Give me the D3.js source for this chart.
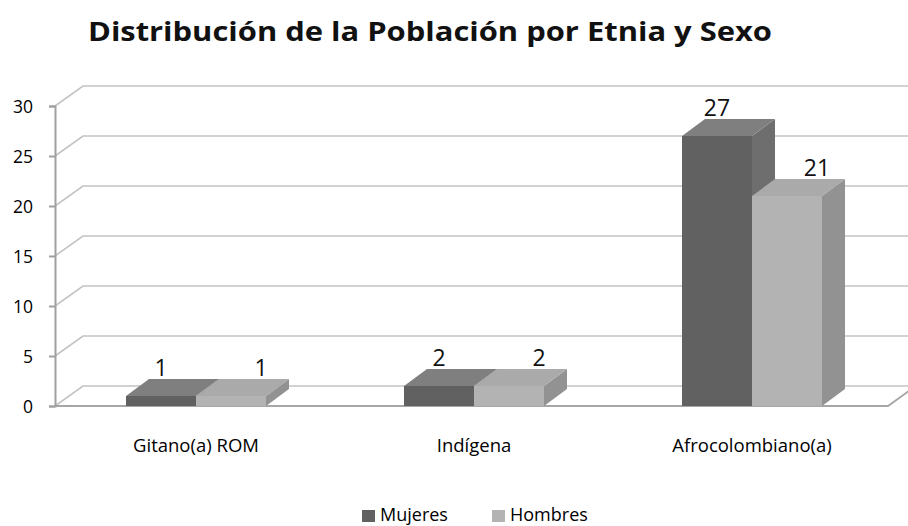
<!DOCTYPE html>
<html><head><meta charset="utf-8">
<script src="https://cdn.jsdelivr.net/npm/d3@7"></script>
<style>html,body{margin:0;padding:0;background:#fff;}svg{display:block;}</style>
</head><body>
<script>
const categories = ["Gitano(a) ROM", "Indígena", "Afrocolombiano(a)"];
const seriesNames = ["Mujeres", "Hombres"];
const mujeres = [1, 2, 27];
const hombres = [1, 2, 21];
const yTicks = [0, 5, 10, 15, 20, 25, 30];
const title = "Distribución de la Población por Etnia y Sexo";

const W = 908, H = 526;
const FONT = "'Open Sans', 'Liberation Sans', sans-serif";
const colors = {
  Mujeres: {front: "#616161", top: "#7f7f7f", side: "#6e6e6e"},
  Hombres: {front: "#b3b3b3", top: "#aaaaaa", side: "#929292"}
};
const wallDx = 28, wallDy = -20;
const barDx = 23, barDy = -17;

const svg = d3.select("body").append("svg").attr("width", W).attr("height", H);

const y = d3.scaleLinear().domain([0, 30]).range([406, 106]);
const x0 = d3.scaleBand().domain(categories).range([57, 891]);
const x1 = d3.scaleBand().domain(seriesNames).range([0, 140]);

// gridlines (back wall)
const grid = svg.append("g");
yTicks.forEach(t => {
  grid.append("path")
    .attr("d", `M55,${y(t)} L${55 + wallDx},${y(t) + wallDy} L${W + 10},${y(t) + wallDy}`)
    .attr("fill", "none").attr("stroke", "#c4c4c4").attr("stroke-width", 1.6);
});
// floor front edge & right diagonal
svg.append("path")
  .attr("d", `M55,${y(0)} L888,${y(0)} L${888 + wallDx},${y(0) + wallDy}`)
  .attr("fill", "none").attr("stroke", "#a6a6a6").attr("stroke-width", 1.8);

// y axis
const yAxis = d3.axisLeft(y).tickValues(yTicks).tickSize(6).tickPadding(16);
const ga = svg.append("g").attr("transform", "translate(55,0)").call(yAxis);
ga.select(".domain").attr("stroke", "#a0a0a0").attr("stroke-width", 2);
ga.selectAll(".tick line").attr("stroke", "#a0a0a0").attr("stroke-width", 2);
ga.selectAll(".tick text").attr("font-family", FONT).attr("font-size", 17.5).attr("fill", "#000").attr("dy", "0.35em");

// bars
const data = categories.map((c, i) => ({cat: c, vals: [
  {s: "Mujeres", v: mujeres[i]}, {s: "Hombres", v: hombres[i]}]}));
const barsG = svg.append("g");
data.forEach(d => {
  const gx = x0(d.cat) + (x0.bandwidth() - 140) / 2;
  d.vals.forEach(b => {
    const xl = gx + x1(b.s), xr = xl + x1.bandwidth();
    const yt = y(b.v), yb = y(0);
    const c = colors[b.s];
    const g = barsG.append("g");
    g.append("path").attr("d", `M${xr},${yb} L${xr + barDx},${yb + barDy} L${xr + barDx},${yt + barDy} L${xr},${yt} Z`).attr("fill", c.side);
    g.append("path").attr("d", `M${xl},${yt} L${xl + barDx},${yt + barDy} L${xr + barDx},${yt + barDy} L${xr},${yt} Z`).attr("fill", c.top);
    g.append("rect").attr("x", xl).attr("y", yt).attr("width", xr - xl).attr("height", yb - yt).attr("fill", c.front);
  });
});
// value labels
data.forEach(d => {
  const gx = x0(d.cat) + (x0.bandwidth() - 140) / 2;
  d.vals.forEach(b => {
    const xl = gx + x1(b.s);
    const cx = xl + x1.bandwidth() / 2 + (b.s === "Hombres" ? 30 : 0);
    svg.append("text").attr("x", cx).attr("y", y(b.v) + barDy - 3)
      .attr("text-anchor", "middle").attr("font-family", FONT).attr("font-size", 23)
      .attr("fill", "#111").text(b.v);
  });
});

// x labels
svg.append("g").selectAll("text").data(categories).join("text")
  .attr("x", d => x0(d) + x0.bandwidth() / 2)
  .attr("y", 452).attr("text-anchor", "middle")
  .attr("font-family", FONT).attr("font-size", 18.5).attr("fill", "#000").text(d => d);

// title
const tt = svg.append("text").attr("x", 430).attr("y", 41).attr("text-anchor", "middle")
  .attr("font-family", FONT).attr("font-weight", "bold").attr("font-size", 27.5)
  .attr("fill", "#111").text(title);
tt.attr("textLength", 684).attr("lengthAdjust", "spacingAndGlyphs");

// legend
const legX = [362, 492];
const leg = svg.append("g");
seriesNames.forEach((s, i) => {
  leg.append("rect").attr("x", legX[i]).attr("y", 510).attr("width", 13).attr("height", 12).attr("fill", colors[s].front);
  leg.append("text").attr("x", legX[i] + 18).attr("y", 521).attr("font-family", FONT)
    .attr("font-size", 18).attr("fill", "#000").text(s);
});
</script>
</body></html>
